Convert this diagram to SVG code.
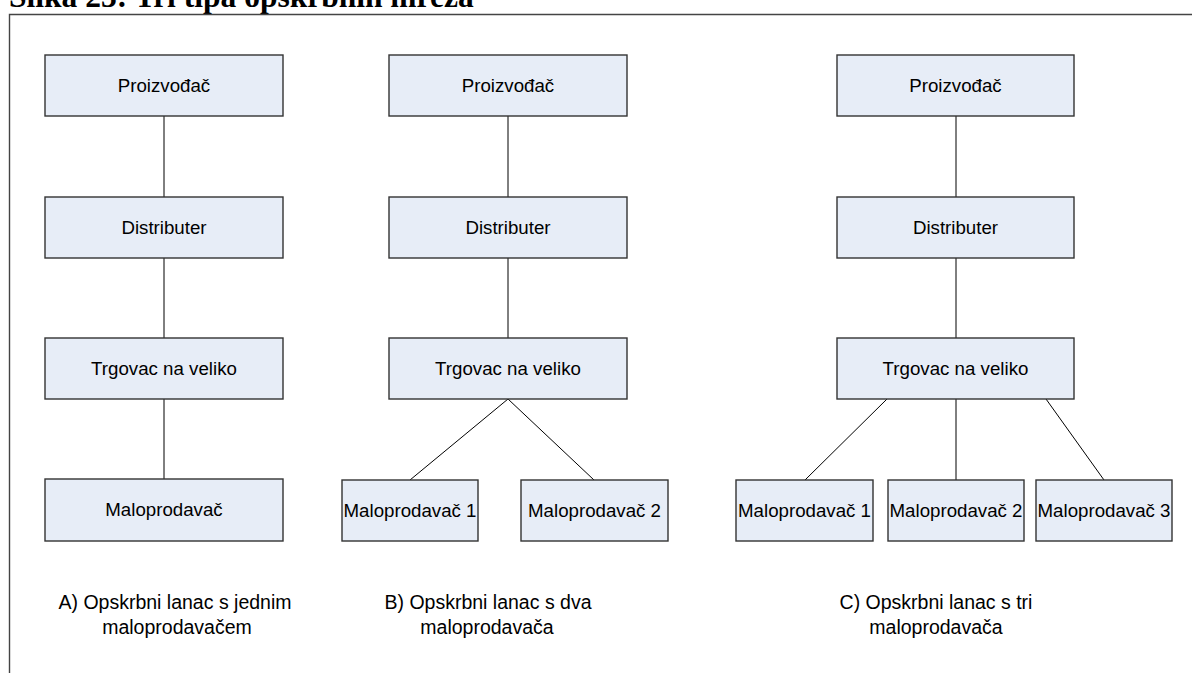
<svg xmlns="http://www.w3.org/2000/svg" width="1192" height="673" viewBox="0 0 1192 673">
<style>
.box{fill:#e7edf7;stroke:#333;stroke-width:1.4}
.lbl{font-family:"Liberation Sans",Arial,sans-serif;font-size:18.7px;fill:#000;text-anchor:middle}
.cap{font-family:"Liberation Sans",Arial,sans-serif;font-size:19.5px;fill:#000;text-anchor:middle}
.title{font-family:"Liberation Serif","Times New Roman",serif;font-size:31.5px;font-weight:bold;fill:#000}
.con line{stroke:#000;stroke-width:1}
.frame{fill:none;stroke:#444;stroke-width:1.4}
</style>
<rect width="1192" height="673" fill="#fff"/>
<text class="title" x="9" y="7">Slika 23: Tri tipa opskrbnih mreža</text>
<path class="frame" d="M9.5,673 V14.5 H1192"/>
<g id="connectors" class="con">
<line x1="164" y1="116" x2="164" y2="197"/>
<line x1="164" y1="258" x2="164" y2="338"/>
<line x1="164" y1="399" x2="164" y2="479"/>
<line x1="508" y1="116" x2="508" y2="197"/>
<line x1="508" y1="258" x2="508" y2="338"/>
<line x1="508" y1="399" x2="410" y2="480"/>
<line x1="508" y1="399" x2="594" y2="480"/>
<line x1="956" y1="116" x2="956" y2="197"/>
<line x1="956" y1="258" x2="956" y2="338"/>
<line x1="887" y1="399" x2="805" y2="480"/>
<line x1="956" y1="399" x2="956" y2="480"/>
<line x1="1046" y1="399" x2="1104" y2="480"/>
</g>
<g id="a-proizvodjac"><rect class="box" x="45" y="55" width="238" height="61"/><text class="lbl" x="164" y="91.5">Proizvođač</text></g>
<g id="a-distributer"><rect class="box" x="45" y="197" width="238" height="61"/><text class="lbl" x="164" y="233.5">Distributer</text></g>
<g id="a-trgovac"><rect class="box" x="45" y="338" width="238" height="61"/><text class="lbl" x="164" y="374.5">Trgovac na veliko</text></g>
<g id="a-maloprodavac"><rect class="box" x="45" y="479" width="238" height="62"/><text class="lbl" x="164" y="516">Maloprodavač</text></g>
<g id="b-proizvodjac"><rect class="box" x="389" y="55" width="238" height="61"/><text class="lbl" x="508" y="91.5">Proizvođač</text></g>
<g id="b-distributer"><rect class="box" x="389" y="197" width="238" height="61"/><text class="lbl" x="508" y="233.5">Distributer</text></g>
<g id="b-trgovac"><rect class="box" x="389" y="338" width="238" height="61"/><text class="lbl" x="508" y="374.5">Trgovac na veliko</text></g>
<g id="b-maloprodavac1"><rect class="box" x="342" y="480" width="136" height="61"/><text class="lbl" x="410" y="516.5">Maloprodavač 1</text></g>
<g id="b-maloprodavac2"><rect class="box" x="521" y="480" width="147" height="61"/><text class="lbl" x="594.5" y="516.5">Maloprodavač 2</text></g>
<g id="c-proizvodjac"><rect class="box" x="837" y="55" width="237" height="61"/><text class="lbl" x="955.5" y="91.5">Proizvođač</text></g>
<g id="c-distributer"><rect class="box" x="837" y="197" width="237" height="61"/><text class="lbl" x="955.5" y="233.5">Distributer</text></g>
<g id="c-trgovac"><rect class="box" x="837" y="338" width="237" height="61"/><text class="lbl" x="955.5" y="374.5">Trgovac na veliko</text></g>
<g id="c-maloprodavac1"><rect class="box" x="736" y="480" width="137" height="61"/><text class="lbl" x="804.5" y="516.5">Maloprodavač 1</text></g>
<g id="c-maloprodavac2"><rect class="box" x="888" y="480" width="136" height="61"/><text class="lbl" x="956" y="516.5">Maloprodavač 2</text></g>
<g id="c-maloprodavac3"><rect class="box" x="1036" y="480" width="136" height="61"/><text class="lbl" x="1104" y="516.5">Maloprodavač 3</text></g>
<g id="caption-a"><text class="cap" x="175" y="609">A) Opskrbni lanac s jednim</text><text class="cap" x="177" y="634">maloprodavačem</text></g>
<g id="caption-b"><text class="cap" x="488" y="609">B) Opskrbni lanac s dva</text><text class="cap" x="487" y="634">maloprodavača</text></g>
<g id="caption-c"><text class="cap" x="936" y="609">C) Opskrbni lanac s tri</text><text class="cap" x="936" y="634">maloprodavača</text></g>
</svg>
